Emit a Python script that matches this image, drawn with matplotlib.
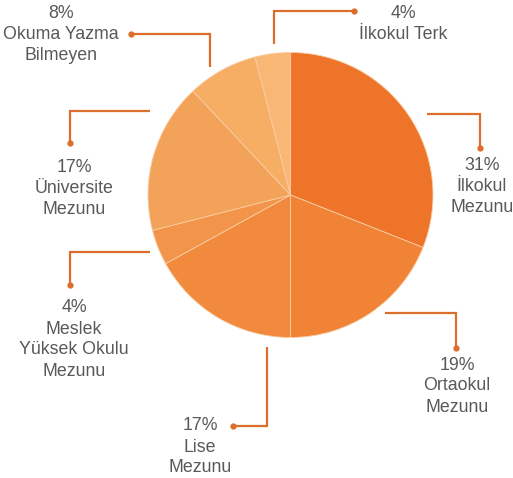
import matplotlib
matplotlib.use("Agg")
import matplotlib.pyplot as plt

categories = ["İlkokul\nMezunu", "Ortaokul\nMezunu", "Lise\nMezunu",
              "Meslek\nYüksek Okulu\nMezunu", "Üniversite\nMezunu",
              "Okuma Yazma\nBilmeyen", "İlkokul Terk"]
values = [31, 19, 17, 4, 17, 8, 4]
colors = ["#EE7429", "#F08335", "#F18A3C", "#F2954A", "#F3A259", "#F6AD64", "#F8B775"]

W, H = 513, 478
fig = plt.figure(figsize=(W / 100, H / 100), dpi=100)
ax = fig.add_axes([0, 0, 1, 1])
ax.set_xlim(0, W)
ax.set_ylim(0, H)
ax.set_aspect("equal")
ax.axis("off")

def Y(y):
    return H - y

ax.pie(values, colors=colors, startangle=90, counterclock=False,
       center=(290.5, Y(195)), radius=142.5,
       wedgeprops=dict(edgecolor="#F9CDA5", linewidth=0.6))
ax.set_xlim(0, W)
ax.set_ylim(0, H)

line_color = "#DC6E2C"
# leader lines: (list of points in pixel coords), label center x, first-line y
leaders = [
    ([(427, 114), (480, 114), (480, 148)], 482, 165),
    ([(385, 313), (456, 313), (456, 348)], 457, 365),
    ([(267, 347), (267, 426), (233, 426)], 200, 426),
    ([(150, 252), (70, 252), (70, 285)], 74, 308),
    ([(150, 111), (70, 111), (70, 143)], 74, 167),
    ([(210, 67), (210, 34), (131, 34)], 61, 13),
    ([(274, 44), (274, 11), (354, 11)], 403, 13),
]

for (pts, tx, ty), cat, v in zip(leaders, categories, values):
    xs = [p[0] for p in pts]
    ys = [Y(p[1]) for p in pts]
    ax.plot(xs, ys, color=line_color, lw=1.6, solid_capstyle="butt",
            solid_joinstyle="miter")
    ax.plot(xs[-1], ys[-1], "o", color=line_color, ms=3.5)
    lines = [f"{v}%"] + cat.split("\n")
    for i, t in enumerate(lines):
        ax.text(tx, Y(ty + 21 * i), t, ha="center", va="center",
                fontsize=12.8, color="#595959", family=["Liberation Sans", "DejaVu Sans"])

fig.savefig("out.png", dpi=100)
